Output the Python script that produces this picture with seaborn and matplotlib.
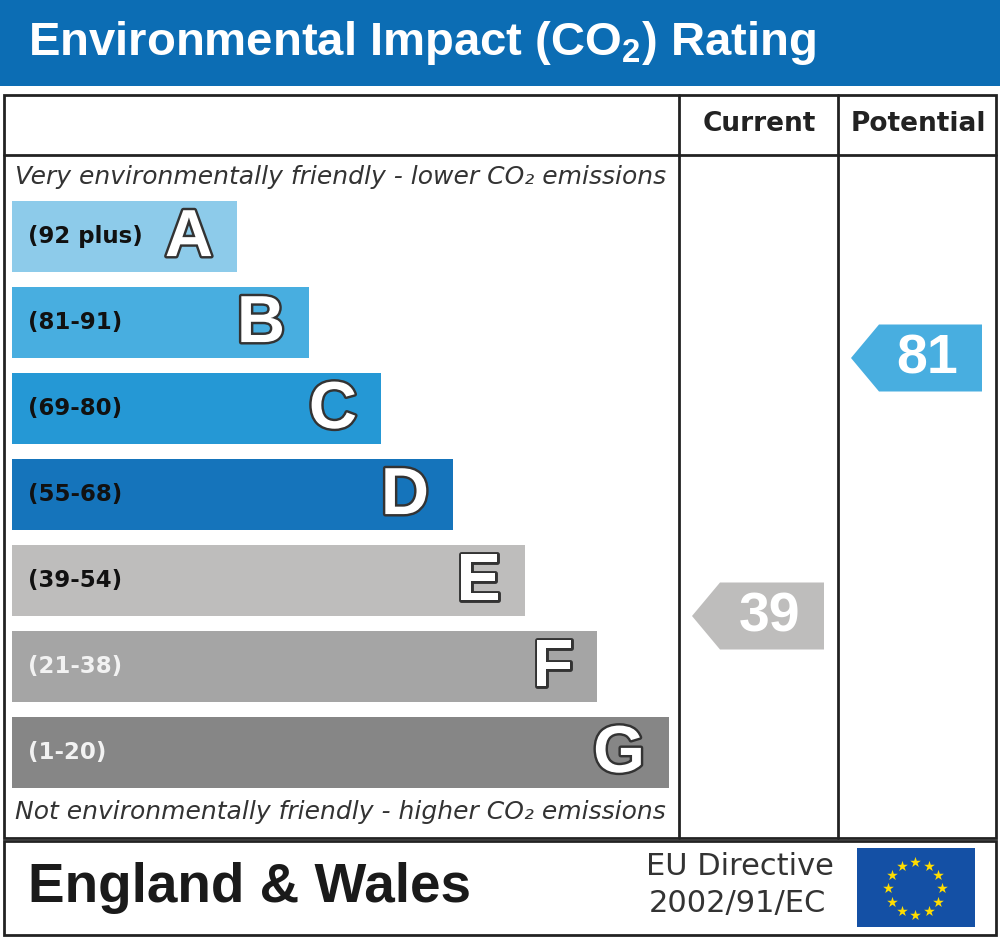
import numpy as np
import matplotlib
matplotlib.use("Agg")
import matplotlib.pyplot as plt
import matplotlib.patheffects as pe
from matplotlib.patches import Rectangle, Polygon
from matplotlib.transforms import blended_transform_factory
import seaborn as sns

sns.set_style("white")
plt.rcParams['font.family'] = ['Liberation Sans', 'DejaVu Sans']
plt.rcParams['mathtext.default'] = 'regular'

# data
bands = ["A", "B", "C", "D", "E", "F", "G"]
band_lo = [92, 81, 69, 55, 39, 21, 1]
band_hi = [100, 91, 80, 68, 54, 38, 20]
band_labels = ["(92 plus)", "(81-91)", "(69-80)", "(55-68)", "(39-54)", "(21-38)", "(1-20)"]
band_colors = ["#8dcbea", "#48aee0", "#2598d5", "#1574bb", "#bebdbc", "#a5a5a5", "#868686"]
current_score = 39
potential_score = 81

W, H = 1000, 938
fig = plt.figure(figsize=(W / 100, H / 100), dpi=100)
ax = fig.add_axes([0, 0, 1, 1])
ax.set_xlim(0, W)
ax.set_ylim(H, 0)
ax.axis("off")

# header band
ax.add_patch(Rectangle((0, 0), W, 86, color="#0c6db4", lw=0))
ax.text(28, 55, "Environmental Impact (CO$_2$) Rating", color="white",
        fontsize=34, fontweight="bold", va="baseline", ha="left")

# frame
lc = "#222222"
lw = 2.0
ax.add_patch(Rectangle((4, 95), 992, 743, fill=False, ec=lc, lw=lw))
ax.plot([4, 996], [155, 155], color=lc, lw=lw)
ax.plot([679, 679], [95, 838], color=lc, lw=lw)
ax.plot([838, 838], [95, 838], color=lc, lw=lw)
ax.add_patch(Rectangle((4, 841), 992, 94, fill=False, ec=lc, lw=lw))

ax.text(759, 124, "Current", fontsize=19, fontweight="bold", color="#222222",
        ha="center", va="center", family="DejaVu Sans")
ax.text(918, 124, "Potential", fontsize=19, fontweight="bold", color="#222222",
        ha="center", va="center", family="DejaVu Sans")

ax.text(15, 177, "Very environmentally friendly - lower CO\u2082 emissions",
        fontsize=18, style="italic", color="#333333", ha="left", va="center",
        family="DejaVu Sans")
ax.text(15, 812, "Not environmentally friendly - higher CO\u2082 emissions",
        fontsize=18, style="italic", color="#333333", ha="left", va="center",
        family="DejaVu Sans")

# bars
step = 86.0
bar_w = 71.0 / step
top = 236.5 - step / 2
bot = 752.5 + step / 2
axb = fig.add_axes([12 / W, (H - bot) / H, 988 / W, (bot - top) / H])
lengths = [225 + 72 * i for i in range(len(bands))]
sns.barplot(x=lengths, y=bands, hue=bands, palette=band_colors, orient="h",
            width=bar_w, saturation=1, legend=False, ax=axb, linewidth=0)
axb.set_xlim(0, 988)
axb.set_ylim(len(bands) - 0.5, -0.5)
axb.axis("off")

for i, b in enumerate(bands):
    tcol = "#111111" if i < 5 else "#f2f2f2"
    axb.text(16, i, band_labels[i], fontsize=16.5, fontweight="bold", color=tcol,
             ha="left", va="center", family="DejaVu Sans")
    axb.text(lengths[i] - 24, i + 0.03, b, fontsize=48, fontweight="bold",
             color="white", ha="right", va="center",
             path_effects=[pe.withStroke(linewidth=3.5, foreground="#333333")])


def score_y(score):
    for i in range(len(bands)):
        if score >= band_lo[i]:
            frac = (score - band_lo[i]) / (band_hi[i] - band_lo[i])
            return i, i + bar_w / 2 - frac * bar_w
    return len(bands) - 1, len(bands) - 1


tr = blended_transform_factory(ax.transData, axb.transData)
half = 33.5 / step
for score, col_l, col_r in [(current_score, 679, 838), (potential_score, 838, 996)]:
    i, yc = score_y(score)
    tip = col_l + 13
    rl = tip + 28
    rr = col_r - 14
    poly = Polygon([[tip, yc], [rl, yc - half], [rr, yc - half], [rr, yc + half],
                    [rl, yc + half]], closed=True, color=band_colors[i], lw=0,
                   transform=tr)
    ax.add_patch(poly)
    ax.text((rl + rr) / 2 - 3, yc + 0.02, str(score), transform=tr, fontsize=40,
            fontweight="bold", color="white", ha="center", va="center")

# footer
ax.text(28, 902, "England & Wales", fontsize=39.5, fontweight="bold",
        color="#1a1a1a", ha="left", va="baseline")
ax.text(646, 875, "EU Directive", fontsize=22, color="#333333", ha="left",
        va="baseline", family="DejaVu Sans")
ax.text(649, 912, "2002/91/EC", fontsize=22, color="#333333", ha="left",
        va="baseline", family="DejaVu Sans")
ax.add_patch(Rectangle((857, 848), 118, 79, color="#1450a5", lw=0))
ang = np.linspace(0, 2 * np.pi, 12, endpoint=False)
ax.scatter(915 + 27 * np.cos(ang), 888.5 + 26.5 * np.sin(ang), marker="*",
           s=65, color="#ffdd00", linewidths=0, zorder=5)

fig.savefig("out.png", dpi=100)
